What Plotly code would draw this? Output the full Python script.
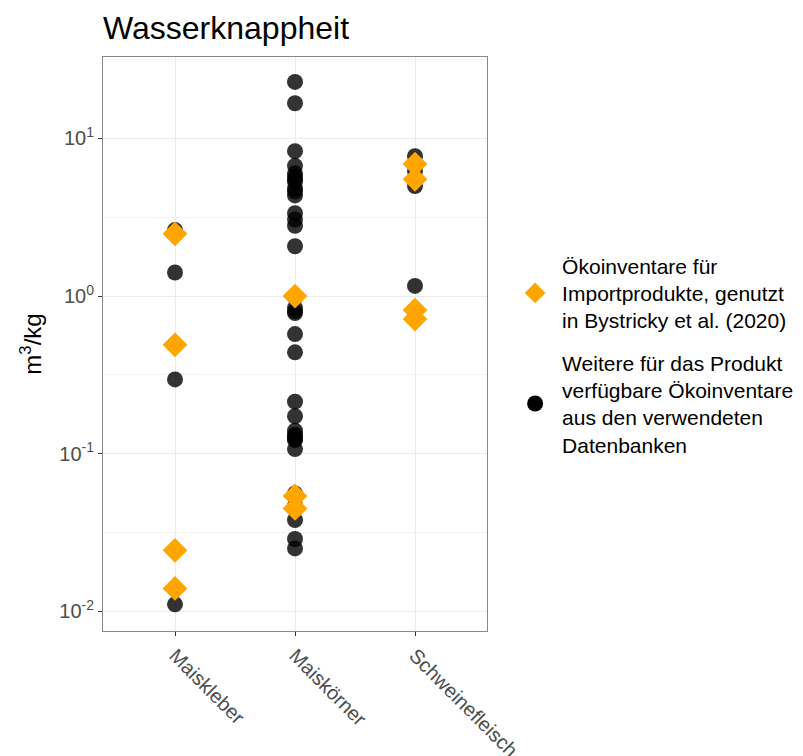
import plotly.graph_objects as go

categories = ["Maiskleber", "Maiskörner", "Schweinefleisch"]

# Further inventories available in the databases (black circles)
weitere_cat = (["Maiskleber"] * 4
               + ["Maiskörner"] * 34
               + ["Schweinefleisch"] * 4)
weitere_val = [2.62, 1.41, 0.296, 0.0111,
               22.8, 16.7, 8.3, 6.7, 6.0, 5.7, 5.3, 4.8, 4.35, 3.35, 3.06, 2.79,
               2.07, 0.98, 0.84, 0.78, 0.574, 0.44, 0.214, 0.173, 0.14, 0.128,
               0.122, 0.107, 0.056, 0.047, 0.038, 0.0288, 0.0251, 0.132, 0.125,
               5.5, 4.6, 0.80,
               7.7, 6.2, 4.98, 1.16]

# Inventories for imported products used in Bystricky et al. (2020) (orange diamonds)
import_cat = (["Maiskleber"] * 4
              + ["Maiskörner"] * 3
              + ["Schweinefleisch"] * 4)
import_val = [2.48, 0.491, 0.0244, 0.0140,
              1.0, 0.054, 0.045,
              6.87, 5.5, 0.815, 0.715]

y_tickvals = [0.01, 0.1, 1, 10]
y_ticktext = ["10<sup>-2</sup>", "10<sup>-1</sup>", "10<sup>0</sup>", "10<sup>1</sup>"]
y_minorvals = [10 ** (k + 0.5) for k in range(-3, 2)]

name_weitere = ("Weitere für das Produkt<br>verfügbare Ökoinventare<br>"
                "aus den verwendeten<br>Datenbanken")
name_import = "Ökoinventare für<br>Importprodukte, genutzt<br>in Bystricky et al. (2020)"

font_family = "Liberation Sans, Arial, sans-serif"

fig = go.Figure()

fig.add_trace(go.Scatter(
    x=weitere_cat, y=weitere_val, mode="markers", name=name_weitere,
    marker=dict(symbol="circle", size=16, color="rgba(0,0,0,0.8)", line=dict(width=0)),
    showlegend=False,
))
fig.add_trace(go.Scatter(
    x=import_cat, y=import_val, mode="markers", name=name_import,
    marker=dict(symbol="diamond", size=19, color="#FFA500", line=dict(width=0)),
    legendrank=1, legendgroup="a",
))
# legend entry for the circles, drawn fully opaque
fig.add_trace(go.Scatter(
    x=[None], y=[None], mode="markers", name=name_weitere,
    marker=dict(symbol="circle", size=17, color="black"),
    legendrank=2, legendgroup="b",
))

fig.update_layout(
    width=803, height=756,
    margin=dict(l=103, r=316, t=57, b=125, autoexpand=False),
    paper_bgcolor="white", plot_bgcolor="white",
    font=dict(family=font_family, color="black"),
    title=dict(text="Wasserknappheit", x=103 / 803, xanchor="left",
               y=1 - 28 / 756, yanchor="middle",
               font=dict(size=32, color="black")),
    xaxis=dict(
        type="category", categoryorder="array", categoryarray=categories,
        range=[-0.6, 2.6], showgrid=True, gridcolor="#EBEBEB", gridwidth=1,
        tickangle=45, tickfont=dict(size=20, color="#4D4D4D"),
        ticks="outside", ticklen=4, tickcolor="#333333",
        showline=True, linecolor="#888888", linewidth=1, mirror=True,
        zeroline=False, automargin=False,
    ),
    yaxis=dict(
        type="log", range=[-2.124, 1.516],
        tickvals=y_tickvals, ticktext=y_ticktext,
        tickfont=dict(size=20, color="#4D4D4D"),
        ticks="outside", ticklen=4, tickcolor="#333333",
        showgrid=True, gridcolor="#EBEBEB", gridwidth=1,
        minor=dict(tickvals=y_minorvals, showgrid=True, gridcolor="#F3F3F3",
                   gridwidth=1, ticks=""),
        showline=True, linecolor="#888888", linewidth=1, mirror=True,
        zeroline=False, automargin=False,
        title=dict(text="m<sup>3</sup>/kg", font=dict(size=24, color="black"),
                   standoff=10),
    ),
    legend=dict(
        x=1.055, xanchor="left", y=0.48, yanchor="middle",
        font=dict(size=21, color="black"),
        tracegroupgap=12, itemsizing="trace", itemwidth=44,
        bgcolor="rgba(0,0,0,0)",
    ),
)

fig.write_html("out.html")
